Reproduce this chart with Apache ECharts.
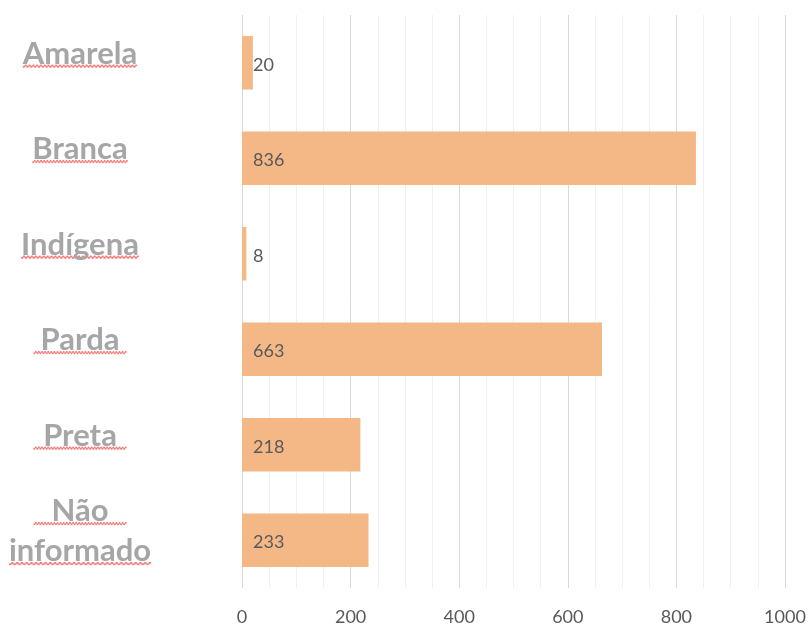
<!DOCTYPE html>
<html><head><meta charset="utf-8">
<script src="https://cdn.jsdelivr.net/npm/echarts@6/dist/echarts.min.js"></script>
<style>html,body{margin:0;padding:0;background:#fff}#c{width:811px;height:626px}</style>
</head><body><div id="c"></div>
<script>
const categories = ['Amarela', 'Branca', 'Indígena', 'Parda', 'Preta', 'Não informado'];
const values = [20, 836, 8, 663, 218, 233];
const xMin = 0, xMax = 1000, xStep = 200;

function makeWave() {
  const c = document.createElement('canvas');
  c.width = 120; c.height = 40;
  const ctx = c.getContext('2d');
  ctx.strokeStyle = 'rgba(245,70,70,0.85)';
  ctx.lineWidth = 1.2;
  ctx.beginPath();
  for (let x = 0; x <= 120; x += 0.5) {
    const y = 36 + 1.5 * Math.sin(x * 2 * Math.PI / 4);
    if (x === 0) ctx.moveTo(x, y); else ctx.lineTo(x, y);
  }
  ctx.stroke();
  return c;
}
const wave = makeWave();

const chart = echarts.init(document.getElementById('c'), null, {renderer: 'canvas'});
chart.setOption({
  animation: false,
  backgroundColor: '#ffffff',
  grid: {left: 242, right: 26, top: 15, bottom: 38, containLabel: false},
  xAxis: {
    type: 'value', min: xMin, max: xMax, interval: xStep,
    axisLine: {show: false}, axisTick: {show: false},
    axisLabel: {color: '#595959', fontSize: 18, fontFamily: 'Lato', margin: 20, formatter: v => String(v)},
    splitLine: {show: true, lineStyle: {color: '#d9d9d9', width: 1}},
    minorTick: {show: false, splitNumber: 4},
    minorSplitLine: {show: true, lineStyle: {color: '#f0f0f0', width: 1}}
  },
  yAxis: {
    type: 'category', inverse: true, data: categories,
    axisLine: {show: false}, axisTick: {show: false},
    axisLabel: {
      align: 'center', margin: 162,
      padding: [0, 0, 18, 0],
      formatter: v => v.split(' ').map(w => '{t|' + w + '}').join('\n'),
      rich: {
        t: {
          color: '#a6a6a6', fontSize: 31, fontWeight: 'bold', fontFamily: 'Lato',
          lineHeight: 40, backgroundColor: {image: wave}
        }
      }
    }
  },
  series: [{
    type: 'bar', data: values, barWidth: '56%',
    itemStyle: {color: '#f4b886'},
    label: {show: true, position: 'insideLeft', distance: 11, offset: [0, 2], color: '#595959', fontSize: 18, fontFamily: 'Lato'}
  }]
});
</script></body></html>
